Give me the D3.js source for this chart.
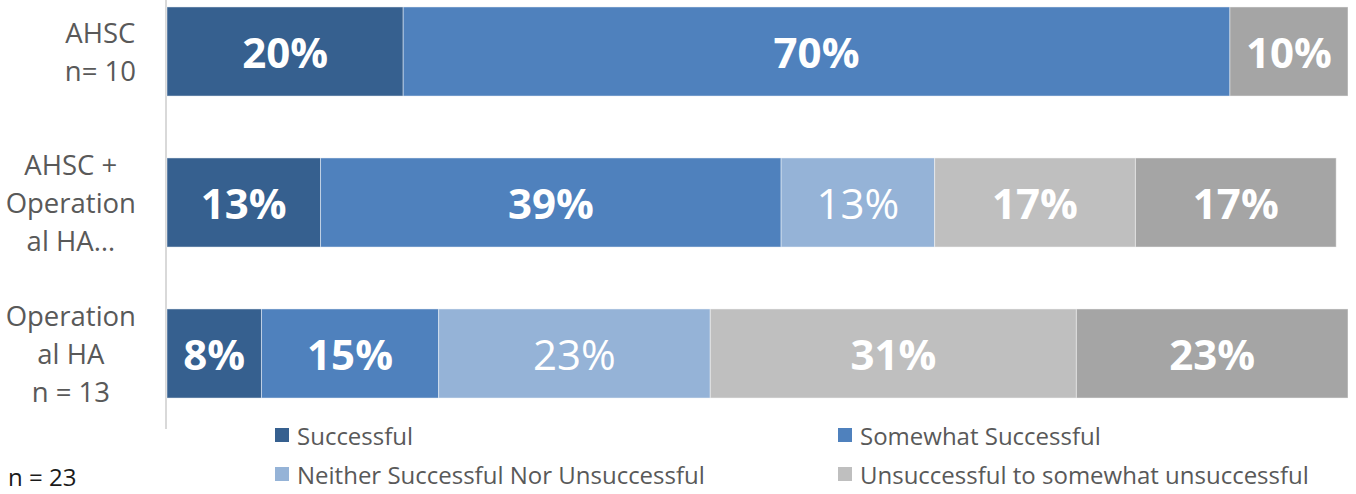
<!DOCTYPE html>
<html>
<head>
<meta charset="utf-8">
<script src="https://cdn.jsdelivr.net/npm/d3@7/dist/d3.min.js"></script>
<style>
  html, body { margin: 0; padding: 0; background: #fff; }
  svg { display: block; font-family: "Open Sans", sans-serif; }
</style>
</head>
<body>
<svg id="chart" width="1356" height="494"></svg>
<script>
// Groups (top to bottom), each label split into its wrapped lines
const groups = ["AHSC", "AHSC + Operational HA", "Operational HA"];
const groupLines = [
  ["AHSC", "n= 10"],
  ["AHSC +", "Operation", "al HA…"],
  ["Operation", "al HA", "n = 13"]
];

// Response categories, in stacking order
const responses = [
  "Successful",
  "Somewhat Successful",
  "Neither Successful Nor Unsuccessful",
  "Unsuccessful to somewhat unsuccessful",
  "Unsuccessful"
];

// Percent of respondents per group, one array per response
const successful         = [20, 13, 8];
const somewhatSuccessful = [70, 39, 15];
const neither            = [0, 13, 23];
const unsuccessfulSome   = [0, 17, 31];
const unsuccessful       = [10, 17, 23];
const seriesValues = [successful, somewhatSuccessful, neither, unsuccessfulSome, unsuccessful];

const colors = ["#36608F", "#4F81BD", "#95B3D7", "#BFBFBF", "#A5A5A5"];
const boldLabel = [true, true, false, true, true];

const totalNote = "n = 23";

const svg = d3.select("#chart");

const x = d3.scaleLinear().domain([0, 100]).range([167, 1348]);
const y = d3.scaleBand()
  .domain(groups)
  .range([-24, 429])
  .paddingInner(0.41)
  .paddingOuter(0.205);

// Rows for stacking
const rows = groups.map((g, i) => {
  const r = { group: g };
  responses.forEach((s, k) => { r[s] = seriesValues[k][i]; });
  return r;
});
const stacked = d3.stack().keys(responses)(rows);

// Vertical category axis line
svg.append("line")
  .attr("x1", 166).attr("x2", 166)
  .attr("y1", y.range()[0]).attr("y2", y.range()[1])
  .attr("stroke", "#D9D9D9").attr("stroke-width", 2);

// Bar segments
const layer = svg.append("g").selectAll("g")
  .data(stacked)
  .join("g")
  .attr("fill", (d, i) => colors[i]);

layer.selectAll("rect")
  .data(d => d.filter(p => p[1] - p[0] > 0))
  .join("rect")
  .attr("x", p => x(p[0]))
  .attr("width", p => x(p[1]) - x(p[0]))
  .attr("y", p => y(p.data.group))
  .attr("height", y.bandwidth())
  .attr("stroke", "rgba(255,255,255,0.45)")
  .attr("stroke-width", 1);

// Value labels centred in each segment
stacked.forEach((s, k) => {
  svg.append("g").selectAll("text")
    .data(s.filter(p => p[1] - p[0] > 0))
    .join("text")
    .attr("x", p => x((p[0] + p[1]) / 2))
    .attr("y", p => y(p.data.group) + y.bandwidth() / 2)
    .attr("text-anchor", "middle")
    .attr("dominant-baseline", "central")
    .attr("fill", "#fff")
    .attr("font-size", 42)
    .attr("font-weight", boldLabel[k] ? 700 : 400)
    .text(p => (p[1] - p[0]) + "%");
});

// Category labels: each block sits against the axis, lines centred within it
const lineGap = 38;
groups.forEach((g, i) => {
  const lines = groupLines[i];
  const cy = y(g) + y.bandwidth() / 2;
  const t = svg.append("g");
  const texts = t.selectAll("text")
    .data(lines)
    .join("text")
    .attr("y", (d, j) => cy + (j - (lines.length - 1) / 2) * lineGap)
    .attr("dominant-baseline", "central")
    .attr("text-anchor", "middle")
    .attr("fill", "#595959")
    .attr("font-size", 27.5)
    .text(d => d);
  let maxW = 0;
  texts.each(function () { maxW = Math.max(maxW, this.getComputedTextLength()); });
  texts.attr("x", 136 - maxW / 2);
});

// Legend (two columns)
const legendCols = [275, 838];
const legendRows = [435, 474];
responses.slice(0, 4).forEach((name, i) => {
  const lx = legendCols[i % 2];
  const ly = legendRows[Math.floor(i / 2)];
  svg.append("rect")
    .attr("x", lx).attr("y", ly - 7)
    .attr("width", 14).attr("height", 14)
    .attr("fill", colors[i]);
  svg.append("text")
    .attr("x", lx + 22).attr("y", ly)
    .attr("dominant-baseline", "central")
    .attr("fill", "#595959")
    .attr("font-size", 24)
    .text(name);
});

// Overall sample size note
svg.append("text")
  .attr("x", 8).attr("y", 476)
  .attr("dominant-baseline", "central")
  .attr("fill", "#1a1a1a")
  .attr("font-size", 24)
  .text(totalNote);
</script>
</body>
</html>
